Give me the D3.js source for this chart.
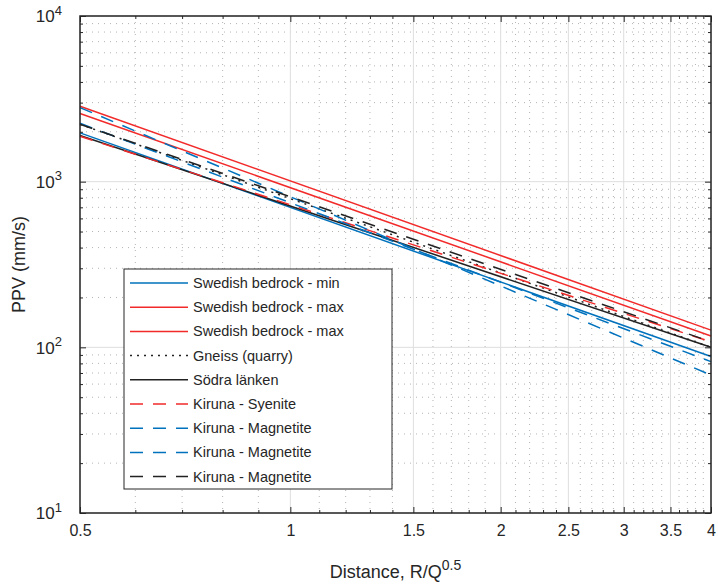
<!DOCTYPE html>
<html>
<head>
<meta charset="utf-8">
<script src="https://cdn.jsdelivr.net/npm/d3@7"></script>
<style>
  body { margin: 0; background: #fff; }
  svg { font-family: "Liberation Sans", Arial, sans-serif; }
</style>
</head>
<body>
<svg id="chart" width="718" height="586"></svg>
<script>
'use strict';

// scaled distance at the two ends of every line
const distances = [0.5, 4];

const seriesNames = [
    'Swedish bedrock - min',
    'Swedish bedrock - max',
    'Swedish bedrock - max',
    'Gneiss (quarry)',
    'Södra länken',
    'Kiruna - Syenite',
    'Kiruna - Magnetite',
    'Kiruna - Magnetite',
    'Kiruna - Magnetite'
];

// PPV (mm/s) read at distance 0.5 and at distance 4
const ppvAtStart = [1970, 2850, 2580, 2220, 1900, 1880, 2800, 2250, 2220];
const ppvAtEnd   = [88,   127,  117,  100,  100,  108,  68,   82,   108];

const seriesColors = ['blue', 'red', 'red', 'black', 'black', 'red', 'blue', 'blue', 'black'];
const seriesDashes = ['solid', 'solid', 'solid', 'dot', 'solid', 'dash', 'dash', 'dash', 'dash'];

const xTicks = [0.5, 1, 1.5, 2, 2.5, 3, 3.5, 4];
const yTicks = [10, 100, 1000, 10000];

const palette = { blue: '#0072bd', red: '#f22a2a', black: '#222222' };
const dashes = { solid: null, dash: '13,10', dot: '2,5' };

const margin = { top: 16, right: 7, bottom: 73, left: 80 };
const width = 718, height = 586;
const plotW = width - margin.left - margin.right;
const plotH = height - margin.top - margin.bottom;

const svg = d3.select('#chart');
const g = svg.append('g').attr('transform', `translate(${margin.left},${margin.top})`);

const x = d3.scaleLog().domain([0.5, 4]).range([0, plotW]);
const y = d3.scaleLog().domain([10, 10000]).range([plotH, 0]);

// minor positions
const xMinor = d3.range(6, 40).map(d => d / 10).filter(d => !xTicks.some(t => Math.abs(t - d) < 1e-9));
const yMinor = [];
[10, 100, 1000].forEach(p => { for (let k = 2; k <= 9; k++) yMinor.push(p * k); });

// grid
const grid = g.append('g');
grid.selectAll('.gxm').data(xMinor).join('line')
    .attr('x1', d => x(d)).attr('x2', d => x(d)).attr('y1', 0).attr('y2', plotH)
    .attr('stroke', '#b4b4b4').attr('stroke-width', 1).attr('stroke-dasharray', '1,5');
grid.selectAll('.gym').data(yMinor).join('line')
    .attr('x1', 0).attr('x2', plotW).attr('y1', d => y(d)).attr('y2', d => y(d))
    .attr('stroke', '#b4b4b4').attr('stroke-width', 1).attr('stroke-dasharray', '1,5');
grid.selectAll('.gx').data(xTicks).join('line')
    .attr('x1', d => x(d)).attr('x2', d => x(d)).attr('y1', 0).attr('y2', plotH)
    .attr('stroke', '#dedede').attr('stroke-width', 1);
grid.selectAll('.gy').data(yTicks).join('line')
    .attr('x1', 0).attr('x2', plotW).attr('y1', d => y(d)).attr('y2', d => y(d))
    .attr('stroke', '#dedede').attr('stroke-width', 1);

// lines
const line = d3.line().x(d => x(d[0])).y(d => y(d[1]));
seriesNames.forEach((name, i) => {
    const pts = [[distances[0], ppvAtStart[i]], [distances[1], ppvAtEnd[i]]];
    g.append('path')
        .attr('d', line(pts))
        .attr('fill', 'none')
        .attr('stroke', palette[seriesColors[i]])
        .attr('stroke-width', 1.5)
        .attr('stroke-dasharray', dashes[seriesDashes[i]]);
});

// axes (ticks inside, box on)
const axisColor = '#262626';
function styleAxis(sel) {
    sel.select('.domain').remove();
    sel.selectAll('line').attr('stroke', axisColor);
}
g.append('g').attr('transform', `translate(0,${plotH})`)
    .call(d3.axisBottom(x).tickValues(xTicks).tickSize(-6).tickPadding(12).tickFormat(d3.format('')))
    .call(styleAxis)
    .call(s => s.selectAll('text').attr('font-size', 16).attr('fill', axisColor)
        .attr('font-family', '"Liberation Sans", Arial, sans-serif'));
g.append('g').attr('transform', `translate(0,${plotH})`)
    .call(d3.axisBottom(x).tickValues(xMinor).tickSize(-3).tickFormat(''))
    .call(styleAxis);
g.append('g')
    .call(d3.axisTop(x).tickValues(xTicks).tickSize(-6).tickFormat(''))
    .call(styleAxis);
g.append('g')
    .call(d3.axisTop(x).tickValues(xMinor).tickSize(-3).tickFormat(''))
    .call(styleAxis);

const yAxis = g.append('g')
    .call(d3.axisLeft(y).tickValues(yTicks).tickSize(-6).tickFormat(''))
    .call(styleAxis);
g.append('g')
    .call(d3.axisLeft(y).tickValues(yMinor).tickSize(-3).tickFormat(''))
    .call(styleAxis);
g.append('g').attr('transform', `translate(${plotW},0)`)
    .call(d3.axisRight(y).tickValues(yTicks).tickSize(-6).tickFormat(''))
    .call(styleAxis);
g.append('g').attr('transform', `translate(${plotW},0)`)
    .call(d3.axisRight(y).tickValues(yMinor).tickSize(-3).tickFormat(''))
    .call(styleAxis);

// y tick labels: 10^n
yAxis.selectAll('.tick').each(function (d) {
    const t = d3.select(this).append('text')
        .attr('x', -18).attr('dy', '0.35em')
        .attr('text-anchor', 'end')
        .attr('fill', axisColor)
        .attr('font-size', 17);
    t.append('tspan').text('10');
    t.append('tspan').attr('dy', '-0.6em').attr('font-size', 13).text(Math.round(Math.log10(d)));
});

// frame
g.append('rect').attr('width', plotW).attr('height', plotH)
    .attr('fill', 'none').attr('stroke', axisColor).attr('stroke-width', 1.5);

// axis labels
const xl = svg.append('text')
    .attr('x', margin.left + plotW / 2).attr('y', 578)
    .attr('text-anchor', 'middle').attr('font-size', 18).attr('fill', axisColor);
xl.append('tspan').text('Distance, R/Q');
xl.append('tspan').attr('dy', '-0.55em').attr('font-size', 14).text('0.5');

svg.append('text')
    .attr('transform', `translate(25,${margin.top + plotH / 2}) rotate(-90)`)
    .attr('text-anchor', 'middle').attr('font-size', 18).attr('fill', axisColor)
    .text('PPV (mm/s)');

// legend
const leg = svg.append('g').attr('transform', 'translate(124,269)');
leg.append('rect').attr('width', 268).attr('height', 220)
    .attr('fill', '#fff').attr('stroke', axisColor).attr('stroke-width', 1);
seriesNames.forEach((name, i) => {
    const row = leg.append('g').attr('transform', `translate(0,${14 + i * 24.2})`);
    row.append('line').attr('x1', 6).attr('x2', 64)
        .attr('stroke', palette[seriesColors[i]])
        .attr('stroke-width', 1.5)
        .attr('stroke-dasharray', dashes[seriesDashes[i]]);
    row.append('text').attr('x', 69).attr('dy', '0.35em')
        .attr('font-size', 14.5).attr('fill', axisColor).text(name);
});
</script>
</body>
</html>
